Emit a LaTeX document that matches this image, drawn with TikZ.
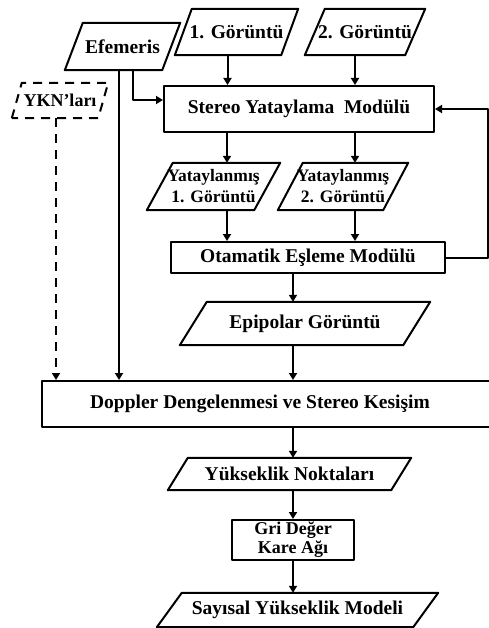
\documentclass[tikz,border=0pt]{standalone}
\usepackage{fontspec}
\setmainfont{Liberation Serif}
\usepackage{tikz}
\usetikzlibrary{arrows.meta}

\begin{document}
\begin{tikzpicture}[line cap=round,line join=round,x=1pt,y=-1pt,
    >={Triangle[length=7pt,width=8pt]},
    every node/.style={font=\fontsize{19.5}{21}\selectfont\bfseries},
    box/.style={draw,line width=2pt,rectangle,inner sep=0pt,align=center},
    para/.style={rectangle,inner sep=0pt,align=center},
    link/.style={->,line width=2pt},
    dashlink/.style={->,line width=2pt,dash pattern=on 9pt off 7pt,line cap=butt}]
                \useasboundingbox (0,0) rectangle (489,628);
                % inputs
                \node [para,minimum width=97pt,minimum height=47pt] (efem) at (122.5,46.5) {Efemeris};
                \node [para,minimum width=106pt,minimum height=46pt] (img1) at (236.5,32) {1. Görüntü};
                \node [para,minimum width=100pt,minimum height=46pt] (img2) at (365,32) {2. Görüntü};
                \node [para,minimum width=86pt,minimum height=35pt,font=\fontsize{18}{20}\selectfont\bfseries] (ykn) at (60,100.5) {YKN’ları};
                % rectification and matching
                \node [box,minimum width=270pt,minimum height=46pt] (stereo) at (299,109) {Stereo Yataylama\ \ Modülü};
                \node [para,minimum width=107pt,minimum height=47pt,font=\fontsize{17.5}{21}\selectfont\bfseries] (rect1) at (213.5,186.5) {Yataylanmış\\1. Görüntü};
                \node [para,minimum width=105pt,minimum height=47pt,font=\fontsize{17.5}{21}\selectfont\bfseries] (rect2) at (343,186.5) {Yataylanmış\\2. Görüntü};
                \node [box,minimum width=274pt,minimum height=31pt] (match) at (308,257.5) {Otamatik Eşleme Modülü};
                \node [para,minimum width=223pt,minimum height=43pt] (epi) at (305,323.5) {Epipolar Görüntü};
                % intersection and DEM
                \node [box,minimum width=456pt,minimum height=46pt] (dopp) at (270,404) {Doppler Dengelenmesi ve Stereo Kesişim\hspace*{20pt}};
                \node [para,minimum width=223pt,minimum height=32pt] (yuk) at (289.5,474) {Yükseklik Noktaları};
                \node [box,minimum width=122pt,minimum height=40pt,font=\fontsize{18}{19}\selectfont\bfseries] (gri) at (293,540) {Gri Değer\\Kare Ağı};
                \node [para,minimum width=256pt,minimum height=34pt] (dem) at (297.5,610) {Sayısal Yükseklik Modeli};
                \coordinate (loop) at (488,257.5);
                % slanted outlines
                \foreach \n/\s in {efem/18,img1/17,img2/20,rect1/26,rect2/25,epi/27,yuk/20,dem/25}
                    \draw [line width=2pt] ([xshift=-\s/2*1pt]\n.south west) -- ([xshift=\s/2*1pt]\n.north west) -- ([xshift=\s/2*1pt]\n.north east) -- ([xshift=-\s/2*1pt]\n.south east) -- cycle;
                \draw [line width=2pt,dash pattern=on 9pt off 7pt,line cap=butt] ([xshift=-5pt]ykn.south west) -- ([xshift=5pt]ykn.north west) -- ([xshift=5pt]ykn.north east) -- ([xshift=-5pt]ykn.south east) -- cycle;
                % connectors
                \draw [link] ([xshift=-9pt]img1.south) -- ([xshift=-9pt]img1.south |- stereo.north);
                \draw [link] ([xshift=-10pt]img2.south) -- ([xshift=-10pt]img2.south |- stereo.north);
                \draw [link] ([xshift=10.5pt]efem.south) |- ([yshift=9pt]stereo.west);
                \draw [link] ([xshift=-3.5pt]efem.south) -- ([xshift=-3.5pt]efem.south |- dopp.north);
                \draw [dashlink] ([xshift=-4pt]ykn.south) -- ([xshift=-4pt]ykn.south |- dopp.north);
                \draw [link] ([xshift=13.5pt]rect1.north |- stereo.south) -- ([xshift=13.5pt]rect1.north);
                \draw [link] ([xshift=12pt]rect2.north |- stereo.south) -- ([xshift=12pt]rect2.north);
                \draw [link] ([xshift=13.5pt]rect1.south) -- ([xshift=13.5pt]rect1.south |- match.north);
                \draw [link] ([xshift=12pt]rect2.south) -- ([xshift=12pt]rect2.south |- match.north);
                \draw [link] (match.east) -- (loop) |- (stereo.east);
                \draw [link] ([xshift=-12pt]epi.north |- match.south) -- ([xshift=-12pt]epi.north);
                \draw [link] ([xshift=-12pt]epi.south) -- ([xshift=-12pt]epi.south |- dopp.north);
                \draw [link] (gri.north |- dopp.south) -- (gri.north |- yuk.north);
                \draw [link] (gri.north |- yuk.south) -- (gri.north);
                \draw [link] (gri.south) -- (gri.south |- dem.north);
            \end{tikzpicture}
\end{document}
